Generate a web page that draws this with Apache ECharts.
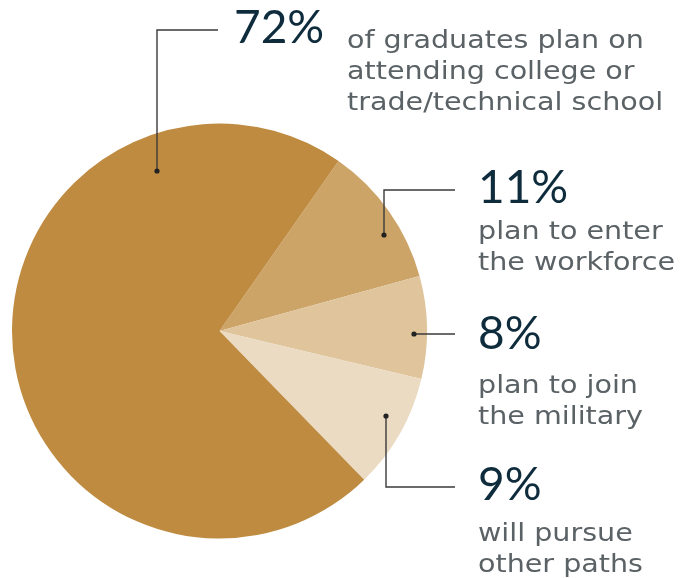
<!DOCTYPE html>
<html><head><meta charset="utf-8">
<script src="https://cdn.jsdelivr.net/npm/echarts@6/dist/echarts.min.js"></script>
<style>html,body{margin:0;padding:0;background:#fff}#c{width:682px;height:578px}</style>
</head><body><div id="c"></div>
<script>
const categories = ['Workforce', 'Military', 'Other paths', 'College or trade/technical school'];
const values = [11, 8, 9, 72];
const percentLabels = ['11%', '8%', '9%', '72%'];
const descriptions = [
  'plan to enter\nthe workforce',
  'plan to join\nthe military',
  'will pursue\nother paths',
  'of graduates plan on\nattending college or\ntrade/technical school'
];
const colors = ['#CDA468', '#DFC49C', '#EADBC2', '#BE8B40'];

const PCT_FONT = '46px Lato';
const DESC_FONT = '24px "DejaVu Sans"';
const PCT_COLOR = '#0F2C3D';
const DESC_COLOR = '#5B6266';
const LINE_COLOR = '#3a3a3a';

// annotation layout (leader lines and text positions)
const notes = [
  { dot: [384, 235], pts: [[384, 235], [384, 190], [455, 190]], pct: [478, 188.5], desc: [478, 217] },
  { dot: [414, 334], pts: [[414, 334], [455, 334]], pct: [478, 334], desc: [478, 371] },
  { dot: [386, 416], pts: [[386, 416], [386, 487], [455, 487]], pct: [478, 485], desc: [478, 519.5] },
  { dot: [157, 171], pts: [[157, 171], [157, 30], [218, 30]], pct: [234, 28], desc: [347, 26] }
];

const graphic = [];
notes.forEach((n, i) => {
  graphic.push({ type: 'polyline', shape: { points: n.pts }, style: { stroke: LINE_COLOR, lineWidth: 1.4, fill: null }, z: 10 });
  graphic.push({ type: 'circle', shape: { cx: n.dot[0], cy: n.dot[1], r: 2.6 }, style: { fill: '#222' }, z: 11 });
  graphic.push({ type: 'text', x: n.pct[0], y: n.pct[1], style: { text: percentLabels[i], font: PCT_FONT, fill: PCT_COLOR, textAlign: 'left', textVerticalAlign: 'middle' }, z: 11 });
  graphic.push({ type: 'text', x: n.desc[0], y: n.desc[1], scaleX: 1.19, style: { text: descriptions[i], font: DESC_FONT, lineHeight: 31, fill: DESC_COLOR, textAlign: 'left', textVerticalAlign: 'top' }, z: 11 });
});

const chart = echarts.init(document.getElementById('c'));
chart.setOption({
  animation: false,
  series: [{
    type: 'pie',
    center: [219.5, 331],
    radius: 207.5,
    startAngle: 55,
    clockwise: true,
    label: { show: false },
    labelLine: { show: false },
    emphasis: { disabled: true },
    data: categories.map((c, i) => ({ name: c, value: values[i], itemStyle: { color: colors[i] } }))
  }],
  graphic: graphic
});
</script></body></html>
